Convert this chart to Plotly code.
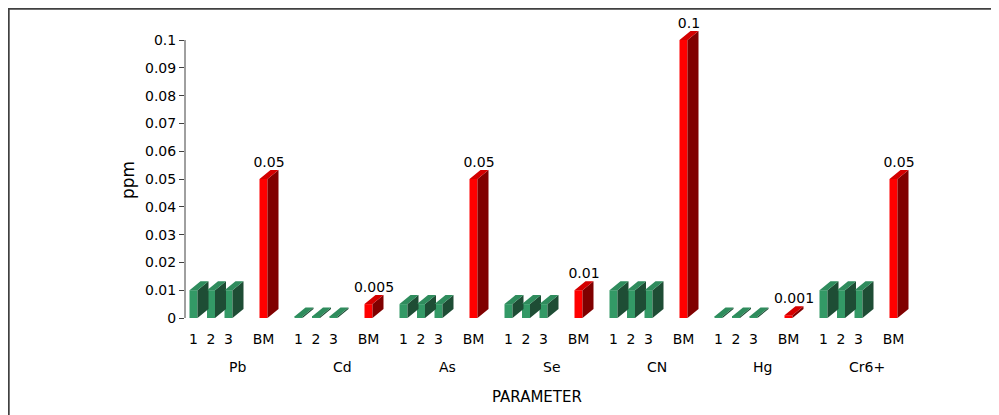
import plotly.graph_objects as go

groups = ["Pb", "Cd", "As", "Se", "CN", "Hg", "Cr6+"]
sub_labels = ["1", "2", "3", "BM"]
sample1 = [0.01, 0.0005, 0.005, 0.005, 0.01, 0.0005, 0.01]
sample2 = [0.01, 0.0005, 0.005, 0.005, 0.01, 0.0005, 0.01]
sample3 = [0.01, 0.0005, 0.005, 0.005, 0.01, 0.0005, 0.01]
bm = [0.05, 0.005, 0.05, 0.01, 0.1, 0.001, 0.05]
bm_labels = ["0.05", "0.005", "0.05", "0.01", "0.1", "0.001", "0.05"]
y_ticks = [0, 0.01, 0.02, 0.03, 0.04, 0.05, 0.06, 0.07, 0.08, 0.09, 0.1]
y_ticktext = ["0", "0.01", "0.02", "0.03", "0.04", "0.05", "0.06", "0.07", "0.08", "0.09", "0.1"]

# page offset (default body margin) and geometry in page pixels
OFF = 8
W, H = 999 - OFF, 415 - OFF
PLOT_L, PLOT_R, PLOT_T, PLOT_B = 185, 920, 25, 318   # page coords
ML, MT = PLOT_L - OFF, PLOT_T - OFF
MR, MB = W - (PLOT_R - OFF), H - (PLOT_B - OFF)
plot_w = PLOT_R - PLOT_L
plot_h = PLOT_B - PLOT_T
px_per_unit = 17.5
x0 = -8.5 / px_per_unit
x1 = x0 + plot_w / px_per_unit
px_per_y = 2780.0
y1 = plot_h / px_per_y

bw = 8 / px_per_unit       # front face width
dx = 11 / px_per_unit      # depth offset x
dy = 9 / px_per_y          # depth offset y

GROUP_STEP = 6
offsets = [0, 1, 2, 4]

green = dict(front="#339966", side="#1e4d35", top="#2f8c5d")
red = dict(front="#ff0000", side="#800000", top="#d40000")

bars = []
tickvals, ticktext = [], []
for gi, g in enumerate(groups):
    base = gi * GROUP_STEP
    vals = [sample1[gi], sample2[gi], sample3[gi], bm[gi]]
    for k, (off, v) in enumerate(zip(offsets, vals)):
        p = base + off
        bars.append((p, v, red if k == 3 else green))
        tickvals.append(p)
        ticktext.append(sub_labels[k])

fig = go.Figure()

for cs in (green, red):
    sel = [(p, v) for p, v, c in bars if c is cs]
    fig.add_trace(go.Bar(x=[p for p, v in sel], y=[v for p, v in sel], width=bw,
                         marker=dict(color=cs["front"], line=dict(width=0)),
                         hoverinfo="skip", showlegend=False))
    sx, sy, tx, ty = [], [], [], []
    for p, v in sel:
        r = p + bw / 2
        l = p - bw / 2
        sx += [r, r + dx, r + dx, r, r, None]
        sy += [0, dy, v + dy, v, 0, None]
        tx += [l, r, r + dx, l + dx, l, None]
        ty += [v, v, v + dy, v + dy, v, None]
    fig.add_trace(go.Scatter(x=sx, y=sy, mode="lines", fill="toself",
                             fillcolor=cs["side"], line=dict(width=0, color=cs["side"]),
                             hoverinfo="skip", showlegend=False))
    fig.add_trace(go.Scatter(x=tx, y=ty, mode="lines", fill="toself",
                             fillcolor=cs["top"], line=dict(width=0, color=cs["top"]),
                             hoverinfo="skip", showlegend=False))

FONT = "DejaVu Sans"

fig.add_trace(go.Scatter(
    x=[gi * GROUP_STEP + 4 + dx / 2 for gi in range(len(groups))],
    y=[v + dy for v in bm],
    text=bm_labels, mode="text", textposition="top center",
    textfont=dict(family=FONT, size=14, color="#000000"),
    cliponaxis=False, hoverinfo="skip", showlegend=False))

def px_x(px):
    return (px - PLOT_L) / plot_w

def px_y(py):
    return (PLOT_B - py) / plot_h

annotations = []
for gi, g in enumerate(groups):
    annotations.append(dict(x=gi * GROUP_STEP + 2.5, y=px_y(367), xref="x", yref="paper",
                            text=g, showarrow=False, xanchor="center", yanchor="middle",
                            font=dict(family=FONT, size=14, color="#000")))
annotations.append(dict(x=px_x(537), y=px_y(397), xref="paper", yref="paper",
                        text="PARAMETER", showarrow=False, xanchor="center", yanchor="middle",
                        font=dict(family=FONT, size=15, color="#000")))
annotations.append(dict(x=px_x(128), y=px_y(180), xref="paper", yref="paper",
                        text="ppm", textangle=-90, showarrow=False, xanchor="center",
                        yanchor="middle", font=dict(family=FONT, size=17, color="#000")))

shapes = [
    dict(type="line", xref="paper", yref="y", x0=0, x1=0, y0=0, y1=0.1,
         line=dict(color="#404040", width=1)),
    dict(type="rect", xref="paper", yref="paper", x0=px_x(OFF + 0.7), x1=px_x(1020),
         y0=px_y(440), y1=px_y(OFF + 0.7), line=dict(color="#404040", width=2),
         fillcolor="rgba(0,0,0,0)", layer="above"),
]

fig.update_layout(
    width=W, height=H,
    margin=dict(l=ML, r=MR, t=MT, b=MB, autoexpand=False),
    paper_bgcolor="white", plot_bgcolor="white",
    barmode="overlay",
    font=dict(family=FONT, size=14, color="#000"),
    xaxis=dict(range=[x0, x1], tickmode="array", tickvals=tickvals, ticktext=ticktext,
               showgrid=False, zeroline=False, showline=False,
               ticks="outside", ticklen=8, tickcolor="rgba(0,0,0,0)",
               tickfont=dict(family=FONT, size=14, color="#000")),
    yaxis=dict(range=[0, y1], tickmode="array", tickvals=y_ticks, ticktext=y_ticktext,
               showgrid=False, zeroline=False, showline=False,
               ticks="outside", ticklen=5, tickcolor="#404040",
               tickfont=dict(family=FONT, size=14, color="#000")),
    annotations=annotations,
    shapes=shapes,
)

fig.write_html("out.html")
